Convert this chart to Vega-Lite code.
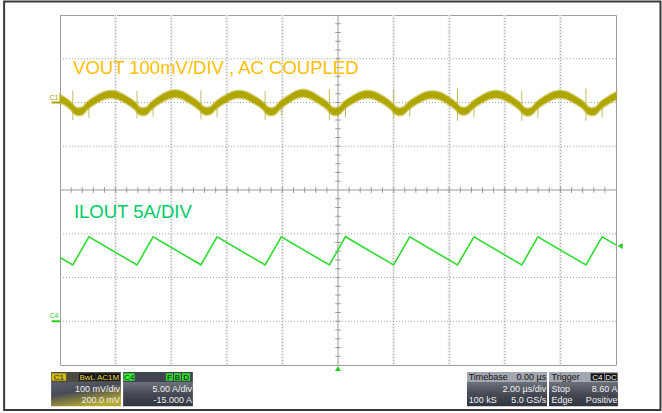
{
  "$schema": "https://vega.github.io/schema/vega-lite/v6.json",
  "width": 556,
  "height": 350,
  "autosize": {"type": "none"},
  "padding": {"left": 60, "top": 15, "right": 46, "bottom": 48},
  "background": "white",
  "config": {"view": {"stroke": "#9c9c9c", "strokeWidth": 1}, "font": "Liberation Sans"},
  "resolve": {"scale": {"y": "independent", "color": "independent", "fill": "independent"}},
  "datasets": {
    "vgrid": [{"t": -8}, {"t": -6}, {"t": -4}, {"t": -2}, {"t": 2}, {"t": 4}, {"t": 6}, {"t": 8}],
    "hgrid": [{"v": -3}, {"v": -2}, {"v": -1}, {"v": 1}, {"v": 2}, {"v": 3}],
    "xticks": [{"t": -9.6}, {"t": -9.2}, {"t": -8.8}, {"t": -8.4}, {"t": -8.0}, {"t": -7.6}, {"t": -7.2}, {"t": -6.8}, {"t": -6.4}, {"t": -6.0}, {"t": -5.6}, {"t": -5.2}, {"t": -4.8}, {"t": -4.4}, {"t": -4.0}, {"t": -3.6}, {"t": -3.2}, {"t": -2.8}, {"t": -2.4}, {"t": -2.0}, {"t": -1.6}, {"t": -1.2}, {"t": -0.8}, {"t": -0.4}, {"t": 0.4}, {"t": 0.8}, {"t": 1.2}, {"t": 1.6}, {"t": 2.0}, {"t": 2.4}, {"t": 2.8}, {"t": 3.2}, {"t": 3.6}, {"t": 4.0}, {"t": 4.4}, {"t": 4.8}, {"t": 5.2}, {"t": 5.6}, {"t": 6.0}, {"t": 6.4}, {"t": 6.8}, {"t": 7.2}, {"t": 7.6}, {"t": 8.0}, {"t": 8.4}, {"t": 8.8}, {"t": 9.2}, {"t": 9.6}],
    "yticks": [{"v": -3.8}, {"v": -3.6}, {"v": -3.4}, {"v": -3.2}, {"v": -3.0}, {"v": -2.8}, {"v": -2.6}, {"v": -2.4}, {"v": -2.2}, {"v": -2.0}, {"v": -1.8}, {"v": -1.6}, {"v": -1.4}, {"v": -1.2}, {"v": -1.0}, {"v": -0.8}, {"v": -0.6}, {"v": -0.4}, {"v": -0.2}, {"v": 0.2}, {"v": 0.4}, {"v": 0.6}, {"v": 0.8}, {"v": 1.0}, {"v": 1.2}, {"v": 1.4}, {"v": 1.6}, {"v": 1.8}, {"v": 2.0}, {"v": 2.2}, {"v": 2.4}, {"v": 2.6}, {"v": 2.8}, {"v": 3.0}, {"v": 3.2}, {"v": 3.4}, {"v": 3.6}, {"v": 3.8}],
    "vout": [
      {"t": -10.00, "lo": 1, "hi": 17}, {"t": -9.61, "lo": -16, "hi": 0}, {"t": -9.47, "lo": -26, "hi": -10}, {"t": -9.32, "lo": -29, "hi": -13},
      {"t": -9.17, "lo": -26, "hi": -10}, {"t": -9.03, "lo": -16, "hi": 0}, {"t": -8.74, "lo": -3, "hi": 13}, {"t": -8.45, "lo": 7, "hi": 23},
      {"t": -8.17, "lo": 11, "hi": 27}, {"t": -7.88, "lo": 7, "hi": 23}, {"t": -7.59, "lo": -3, "hi": 13}, {"t": -7.30, "lo": -16, "hi": 0},
      {"t": -7.16, "lo": -26, "hi": -10}, {"t": -7.01, "lo": -29, "hi": -13}, {"t": -6.86, "lo": -26, "hi": -10}, {"t": -6.72, "lo": -16, "hi": 0},
      {"t": -6.43, "lo": -2, "hi": 14}, {"t": -6.14, "lo": 8, "hi": 24}, {"t": -5.86, "lo": 12, "hi": 28}, {"t": -5.58, "lo": 8, "hi": 24},
      {"t": -5.29, "lo": -3, "hi": 13}, {"t": -5.00, "lo": -16, "hi": 0}, {"t": -4.86, "lo": -25, "hi": -9}, {"t": -4.71, "lo": -28, "hi": -12},
      {"t": -4.56, "lo": -25, "hi": -9}, {"t": -4.42, "lo": -16, "hi": 0}, {"t": -4.13, "lo": -3, "hi": 13}, {"t": -3.84, "lo": 7, "hi": 23},
      {"t": -3.56, "lo": 11, "hi": 27}, {"t": -3.27, "lo": 7, "hi": 23}, {"t": -2.98, "lo": -3, "hi": 13}, {"t": -2.69, "lo": -16, "hi": 0},
      {"t": -2.55, "lo": -26, "hi": -10}, {"t": -2.40, "lo": -29, "hi": -13}, {"t": -2.25, "lo": -26, "hi": -10}, {"t": -2.11, "lo": -16, "hi": 0},
      {"t": -1.82, "lo": -2, "hi": 14}, {"t": -1.53, "lo": 9, "hi": 25}, {"t": -1.25, "lo": 13, "hi": 29}, {"t": -0.96, "lo": 8, "hi": 24},
      {"t": -0.67, "lo": -3, "hi": 13}, {"t": -0.38, "lo": -16, "hi": 0}, {"t": -0.24, "lo": -26, "hi": -10}, {"t": -0.09, "lo": -29, "hi": -13},
      {"t": 0.06, "lo": -26, "hi": -10}, {"t": 0.20, "lo": -16, "hi": 0}, {"t": 0.49, "lo": -3, "hi": 13}, {"t": 0.78, "lo": 7, "hi": 23},
      {"t": 1.07, "lo": 11, "hi": 27}, {"t": 1.35, "lo": 7, "hi": 23}, {"t": 1.64, "lo": -3, "hi": 13}, {"t": 1.93, "lo": -17, "hi": -1},
      {"t": 2.07, "lo": -26, "hi": -10}, {"t": 2.22, "lo": -29, "hi": -13}, {"t": 2.37, "lo": -26, "hi": -10}, {"t": 2.51, "lo": -17, "hi": -1},
      {"t": 2.80, "lo": -4, "hi": 12}, {"t": 3.09, "lo": 6, "hi": 22}, {"t": 3.37, "lo": 10, "hi": 26}, {"t": 3.66, "lo": 7, "hi": 23},
      {"t": 3.95, "lo": -3, "hi": 13}, {"t": 4.23, "lo": -16, "hi": 0}, {"t": 4.37, "lo": -25, "hi": -9}, {"t": 4.52, "lo": -28, "hi": -12},
      {"t": 4.67, "lo": -25, "hi": -9}, {"t": 4.81, "lo": -16, "hi": 0}, {"t": 5.10, "lo": -3, "hi": 13}, {"t": 5.39, "lo": 7, "hi": 23},
      {"t": 5.68, "lo": 11, "hi": 27}, {"t": 5.96, "lo": 7, "hi": 23}, {"t": 6.25, "lo": -3, "hi": 13}, {"t": 6.54, "lo": -17, "hi": -1},
      {"t": 6.68, "lo": -27, "hi": -11}, {"t": 6.83, "lo": -30, "hi": -14}, {"t": 6.98, "lo": -27, "hi": -11}, {"t": 7.12, "lo": -17, "hi": -1},
      {"t": 7.41, "lo": -3, "hi": 13}, {"t": 7.70, "lo": 7, "hi": 23}, {"t": 7.98, "lo": 11, "hi": 27}, {"t": 8.27, "lo": 7, "hi": 23},
      {"t": 8.56, "lo": -3, "hi": 13}, {"t": 8.85, "lo": -16, "hi": 0}, {"t": 8.99, "lo": -26, "hi": -10}, {"t": 9.14, "lo": -29, "hi": -13},
      {"t": 9.29, "lo": -26, "hi": -10}, {"t": 9.43, "lo": -16, "hi": 0}, {"t": 9.72, "lo": -3, "hi": 13}, {"t": 10.00, "lo": 7, "hi": 23}
    ],
    "spikes": [
      {"t": -9.54, "lo": -40, "hi": 28}, {"t": -7.23, "lo": -36, "hi": 26}, {"t": -4.93, "lo": -38, "hi": 28}, {"t": -2.62, "lo": -40, "hi": 26},
      {"t": -0.31, "lo": -40, "hi": 30}, {"t": 2.00, "lo": -38, "hi": 30}, {"t": 4.30, "lo": -42, "hi": 32}, {"t": 6.61, "lo": -42, "hi": 26},
      {"t": 8.92, "lo": -42, "hi": 32},
      {"t": -8.96, "lo": -35, "hi": 0}, {"t": -6.65, "lo": -32, "hi": 2}, {"t": -4.35, "lo": -34, "hi": 4}, {"t": -2.04, "lo": -30, "hi": 6},
      {"t": 0.27, "lo": -34, "hi": 4}, {"t": 2.58, "lo": -32, "hi": 2}, {"t": 4.89, "lo": -34, "hi": 6}, {"t": 7.19, "lo": -36, "hi": 4},
      {"t": 9.50, "lo": -34, "hi": 4}
    ],
    "ilout": [
      {"t": -10.0, "amps": 7.29}, {"t": -9.54, "amps": 6.43}, {"t": -8.96, "amps": 9.65}, {"t": -7.23, "amps": 6.43}, {"t": -6.65, "amps": 9.65},
      {"t": -4.93, "amps": 6.45}, {"t": -4.35, "amps": 9.65}, {"t": -2.62, "amps": 6.43}, {"t": -2.04, "amps": 9.65}, {"t": -0.31, "amps": 6.43},
      {"t": 0.27, "amps": 9.66}, {"t": 2.00, "amps": 6.43}, {"t": 2.58, "amps": 9.64}, {"t": 4.30, "amps": 6.43}, {"t": 4.89, "amps": 9.65},
      {"t": 6.61, "amps": 6.43}, {"t": 7.19, "amps": 9.65}, {"t": 8.92, "amps": 6.43}, {"t": 9.50, "amps": 9.65}, {"t": 10.0, "amps": 8.73}
    ],
    "labels": [
      {"text": "VOUT 100mV/DIV , AC COUPLED", "t": -9.53, "v": 2.65, "trace": "VOUT"},
      {"text": "ILOUT 5A/DIV", "t": -9.50, "v": -0.64, "trace": "ILOUT"}
    ],
    "chmarks": [{"ch": "C1", "v": 2.0}, {"ch": "C4", "v": -3.0}],
    "boxes": [
      {"box": "C1", "t0": -10.32, "t1": -7.81},
      {"box": "C4", "t0": -7.73, "t1": -5.22},
      {"box": "Timebase", "t0": 4.64, "t1": 7.52},
      {"box": "Trigger", "t0": 7.59, "t1": 10.07}
    ],
    "tags": [
      {"tag": "C1", "t0": -10.30, "t1": -9.78, "tc": -10.04, "kind": "ch1"},
      {"tag": "BwL", "t0": -9.32, "t1": -8.72, "tc": -9.02, "kind": "ch1flag"},
      {"tag": "AC1M", "t0": -8.70, "t1": -7.84, "tc": -8.27, "kind": "ch1flag"},
      {"tag": "C4", "t0": -7.71, "t1": -7.32, "tc": -7.515, "kind": "ch4"},
      {"tag": "F", "t0": -6.19, "t1": -5.94, "tc": -6.065, "kind": "ch4flag"},
      {"tag": "B", "t0": -5.90, "t1": -5.65, "tc": -5.775, "kind": "ch4flag"},
      {"tag": "D", "t0": -5.61, "t1": -5.32, "tc": -5.465, "kind": "ch4flag"},
      {"tag": "C4", "t0": 9.09, "t1": 9.57, "tc": 9.33, "kind": "trigflag"},
      {"tag": "DC", "t0": 9.59, "t1": 10.05, "tc": 9.82, "kind": "trigflag"}
    ],
    "headLeft": [{"text": "Timebase", "t": 4.70, "v": -4.34}, {"text": "Trigger", "t": 7.68, "v": -4.34}],
    "headRight": [{"text": "0.00 µs", "t": 7.49, "v": -4.34}],
    "infoLeft": [{"text": "100 kS", "t": 4.70, "v": -4.865}, {"text": "Stop", "t": 7.68, "v": -4.615}, {"text": "Edge", "t": 7.68, "v": -4.865}],
    "infoRight": [
      {"text": "100 mV/div", "t": -7.84, "v": -4.615}, {"text": "200.0 mV", "t": -7.84, "v": -4.865},
      {"text": "5.00 A/div", "t": -5.25, "v": -4.615}, {"text": "-15.000 A", "t": -5.25, "v": -4.865},
      {"text": "2.00 µs/div", "t": 7.49, "v": -4.615}, {"text": "5.0 GS/s", "t": 7.49, "v": -4.865},
      {"text": "8.60 A", "t": 10.05, "v": -4.615}, {"text": "Positive", "t": 10.05, "v": -4.865}
    ]
  },
  "layer": [
    {
      "data": {"values": [{}]},
      "mark": {"type": "rect", "filled": false, "stroke": "#3a3a3a", "strokeWidth": 2},
      "encoding": {
        "x": {"datum": -12.01, "type": "quantitative", "scale": {"domain": [-10, 10], "nice": false, "zero": false}, "axis": null},
        "x2": {"datum": 11.6},
        "y": {"datum": 4.31, "type": "quantitative", "scale": {"domain": [-4, 4], "nice": false, "zero": false}, "axis": null},
        "y2": {"datum": -5.03}
      }
    },
    {
      "data": {"name": "vgrid"},
      "mark": {"type": "rule", "color": "#efefef", "strokeWidth": 3},
      "encoding": {"x": {"field": "t", "type": "quantitative", "scale": {"domain": [-10, 10], "nice": false, "zero": false}, "axis": null}}
    },
    {
      "data": {"name": "vgrid"},
      "mark": {"type": "rule", "color": "#a8a8a8", "strokeWidth": 1, "strokeDash": [1, 2]},
      "encoding": {"x": {"field": "t", "type": "quantitative", "scale": {"domain": [-10, 10], "nice": false, "zero": false}, "axis": null}}
    },
    {
      "data": {"name": "hgrid"},
      "mark": {"type": "rule", "color": "#a8a8a8", "strokeWidth": 1, "strokeDash": [1, 2]},
      "encoding": {"y": {"field": "v", "type": "quantitative", "scale": {"domain": [-4, 4], "nice": false, "zero": false}, "axis": null}}
    },
    {
      "data": {"values": [{}]},
      "mark": {"type": "rule", "color": "#9a9a9a", "strokeWidth": 1},
      "encoding": {"x": {"datum": 0, "type": "quantitative", "scale": {"domain": [-10, 10], "nice": false, "zero": false}, "axis": null}}
    },
    {
      "data": {"values": [{}]},
      "mark": {"type": "rule", "color": "#9a9a9a", "strokeWidth": 1},
      "encoding": {"y": {"datum": 0, "type": "quantitative", "scale": {"domain": [-4, 4], "nice": false, "zero": false}, "axis": null}}
    },
    {
      "data": {"name": "xticks"},
      "mark": {"type": "rule", "color": "#9a9a9a", "strokeWidth": 1},
      "encoding": {
        "x": {"field": "t", "type": "quantitative", "scale": {"domain": [-10, 10], "nice": false, "zero": false}, "axis": null},
        "y": {"datum": -0.065, "type": "quantitative", "scale": {"domain": [-4, 4], "nice": false, "zero": false}, "axis": null},
        "y2": {"datum": 0.065}
      }
    },
    {
      "data": {"name": "yticks"},
      "mark": {"type": "rule", "color": "#9a9a9a", "strokeWidth": 1},
      "encoding": {
        "y": {"field": "v", "type": "quantitative", "scale": {"domain": [-4, 4], "nice": false, "zero": false}, "axis": null},
        "x": {"datum": -0.1, "type": "quantitative", "scale": {"domain": [-10, 10], "nice": false, "zero": false}, "axis": null},
        "x2": {"datum": 0.1}
      }
    },
    {
      "data": {"name": "spikes"},
      "mark": {"type": "rule", "color": "#c4bc5c", "strokeWidth": 1},
      "encoding": {
        "x": {"field": "t", "type": "quantitative", "scale": {"domain": [-10, 10], "nice": false, "zero": false}, "axis": null},
        "y": {"field": "lo", "type": "quantitative", "scale": {"domain": [-600, 200], "nice": false, "zero": false}, "axis": null},
        "y2": {"field": "hi"}
      }
    },
    {
      "data": {"name": "vout"},
      "mark": {"type": "area", "color": "#b0a600", "interpolate": "monotone", "stroke": "#b3a90a", "strokeWidth": 2.5, "strokeOpacity": 0.5},
      "encoding": {
        "x": {"field": "t", "type": "quantitative", "scale": {"domain": [-10, 10], "nice": false, "zero": false}, "axis": null},
        "y": {"field": "lo", "type": "quantitative", "scale": {"domain": [-600, 200], "nice": false, "zero": false}, "axis": null},
        "y2": {"field": "hi"}
      }
    },
    {
      "data": {"name": "ilout"},
      "mark": {"type": "line", "color": "#2fdc2f", "strokeWidth": 1.6},
      "encoding": {
        "x": {"field": "t", "type": "quantitative", "scale": {"domain": [-10, 10], "nice": false, "zero": false}, "axis": null},
        "y": {"field": "amps", "type": "quantitative", "scale": {"domain": [-5, 35], "nice": false, "zero": false}, "axis": null}
      }
    },
    {
      "data": {"name": "labels"},
      "mark": {"type": "text", "align": "left", "baseline": "alphabetic", "fontSize": 18.5, "font": "Liberation Sans"},
      "encoding": {
        "x": {"field": "t", "type": "quantitative", "scale": {"domain": [-10, 10], "nice": false, "zero": false}, "axis": null},
        "y": {"field": "v", "type": "quantitative", "scale": {"domain": [-4, 4], "nice": false, "zero": false}, "axis": null},
        "text": {"field": "text"},
        "color": {"field": "trace", "type": "nominal", "scale": {"domain": ["VOUT", "ILOUT"], "range": ["#ffc000", "#00cc66"]}, "legend": null}
      }
    },
    {
      "data": {"name": "chmarks"},
      "mark": {"type": "rule", "strokeWidth": 2},
      "encoding": {
        "x": {"datum": -10.3, "type": "quantitative", "scale": {"domain": [-10, 10], "nice": false, "zero": false}, "axis": null},
        "x2": {"datum": -10.0},
        "y": {"field": "v", "type": "quantitative", "scale": {"domain": [-4, 4], "nice": false, "zero": false}, "axis": null},
        "color": {"field": "ch", "type": "nominal", "scale": {"domain": ["C1", "C4"], "range": ["#aea400", "#22d422"]}, "legend": null}
      }
    },
    {
      "data": {"name": "chmarks"},
      "mark": {"type": "text", "align": "center", "baseline": "alphabetic", "fontSize": 7, "dy": -3},
      "encoding": {
        "x": {"datum": -10.22, "type": "quantitative", "scale": {"domain": [-10, 10], "nice": false, "zero": false}, "axis": null},
        "y": {"field": "v", "type": "quantitative", "scale": {"domain": [-4, 4], "nice": false, "zero": false}, "axis": null},
        "text": {"field": "ch"},
        "color": {"field": "ch", "type": "nominal", "scale": {"domain": ["C1", "C4"], "range": ["#aea400", "#22d422"]}, "legend": null}
      }
    },
    {
      "data": {"values": [{}]},
      "mark": {"type": "point", "shape": "triangle-up", "filled": true, "color": "#22cc22", "size": 35, "opacity": 1},
      "encoding": {
        "x": {"datum": 0, "type": "quantitative", "scale": {"domain": [-10, 10], "nice": false, "zero": false}, "axis": null},
        "y": {"datum": -4.08, "type": "quantitative", "scale": {"domain": [-4, 4], "nice": false, "zero": false}, "axis": null}
      }
    },
    {
      "data": {"values": [{}]},
      "mark": {"type": "point", "shape": "triangle-left", "filled": true, "color": "#22cc22", "size": 35, "opacity": 1},
      "encoding": {
        "x": {"datum": 10.15, "type": "quantitative", "scale": {"domain": [-10, 10], "nice": false, "zero": false}, "axis": null},
        "y": {"datum": 8.6, "type": "quantitative", "scale": {"domain": [-5, 35], "nice": false, "zero": false}, "axis": null}
      }
    },
    {
      "data": {"name": "boxes"},
      "transform": [{"filter": "datum.box === 'C1'"}],
      "mark": {"type": "rect", "fill": {"gradient": "linear", "x1": 0, "y1": 0, "x2": 0.5, "y2": 1, "stops": [{"offset": 0, "color": "#5c606a"}, {"offset": 0.45, "color": "#484c56"}, {"offset": 1, "color": "#b3a830"}]}},
      "encoding": {
        "x": {"field": "t0", "type": "quantitative", "scale": {"domain": [-10, 10], "nice": false, "zero": false}, "axis": null},
        "x2": {"field": "t1"},
        "y": {"datum": -4.39, "type": "quantitative", "scale": {"domain": [-4, 4], "nice": false, "zero": false}, "axis": null},
        "y2": {"datum": -4.94}
      }
    },
    {
      "data": {"name": "boxes"},
      "transform": [{"filter": "datum.box !== 'C1'"}],
      "mark": {"type": "rect", "fill": {"gradient": "linear", "x1": 0, "y1": 0, "x2": 0, "y2": 1, "stops": [{"offset": 0, "color": "#6c717b"}, {"offset": 0.5, "color": "#454a55"}, {"offset": 1, "color": "#30343e"}]}},
      "encoding": {
        "x": {"field": "t0", "type": "quantitative", "scale": {"domain": [-10, 10], "nice": false, "zero": false}, "axis": null},
        "x2": {"field": "t1"},
        "y": {"datum": -4.39, "type": "quantitative", "scale": {"domain": [-4, 4], "nice": false, "zero": false}, "axis": null},
        "y2": {"datum": -4.94}
      }
    },
    {
      "data": {"name": "boxes"},
      "mark": {"type": "rect"},
      "encoding": {
        "x": {"field": "t0", "type": "quantitative", "scale": {"domain": [-10, 10], "nice": false, "zero": false}, "axis": null},
        "x2": {"field": "t1"},
        "y": {"datum": -4.16, "type": "quantitative", "scale": {"domain": [-4, 4], "nice": false, "zero": false}, "axis": null},
        "y2": {"datum": -4.39},
        "fill": {"field": "box", "type": "nominal", "scale": {"domain": ["C1", "C4", "Timebase", "Trigger"], "range": ["#4c4b40", "#40454f", "#a3a7af", "#a3a7af"]}, "legend": null}
      }
    },
    {
      "data": {"name": "tags"},
      "mark": {"type": "rect"},
      "encoding": {
        "x": {"field": "t0", "type": "quantitative", "scale": {"domain": [-10, 10], "nice": false, "zero": false}, "axis": null},
        "x2": {"field": "t1"},
        "y": {"datum": -4.19, "type": "quantitative", "scale": {"domain": [-4, 4], "nice": false, "zero": false}, "axis": null},
        "y2": {"datum": -4.36},
        "fill": {"field": "kind", "type": "nominal", "scale": {"domain": ["ch1", "ch1flag", "ch4", "ch4flag", "trigflag"], "range": ["#cdbb10", "#151515", "#35ee35", "#30d830", "#151515"]}, "legend": null}
      }
    },
    {
      "data": {"name": "tags"},
      "mark": {"type": "text", "align": "center", "baseline": "alphabetic", "fontSize": 8},
      "encoding": {
        "x": {"field": "tc", "type": "quantitative", "scale": {"domain": [-10, 10], "nice": false, "zero": false}, "axis": null},
        "y": {"datum": -4.335, "type": "quantitative", "scale": {"domain": [-4, 4], "nice": false, "zero": false}, "axis": null},
        "text": {"field": "tag"},
        "fill": {"field": "kind", "type": "nominal", "scale": {"domain": ["ch1", "ch1flag", "ch4", "ch4flag", "trigflag"], "range": ["#2a2a10", "#e6d040", "#0c300c", "#0a0a0a", "#f0f0f0"]}, "legend": null}
      }
    },
    {
      "data": {"name": "headLeft"},
      "mark": {"type": "text", "align": "left", "baseline": "alphabetic", "fontSize": 9, "color": "#141414"},
      "encoding": {
        "x": {"field": "t", "type": "quantitative", "scale": {"domain": [-10, 10], "nice": false, "zero": false}, "axis": null},
        "y": {"field": "v", "type": "quantitative", "scale": {"domain": [-4, 4], "nice": false, "zero": false}, "axis": null},
        "text": {"field": "text"}
      }
    },
    {
      "data": {"name": "headRight"},
      "mark": {"type": "text", "align": "right", "baseline": "alphabetic", "fontSize": 9, "color": "#141414"},
      "encoding": {
        "x": {"field": "t", "type": "quantitative", "scale": {"domain": [-10, 10], "nice": false, "zero": false}, "axis": null},
        "y": {"field": "v", "type": "quantitative", "scale": {"domain": [-4, 4], "nice": false, "zero": false}, "axis": null},
        "text": {"field": "text"}
      }
    },
    {
      "data": {"name": "infoLeft"},
      "mark": {"type": "text", "align": "left", "baseline": "alphabetic", "fontSize": 9, "color": "#f0f0f0"},
      "encoding": {
        "x": {"field": "t", "type": "quantitative", "scale": {"domain": [-10, 10], "nice": false, "zero": false}, "axis": null},
        "y": {"field": "v", "type": "quantitative", "scale": {"domain": [-4, 4], "nice": false, "zero": false}, "axis": null},
        "text": {"field": "text"}
      }
    },
    {
      "data": {"name": "infoRight"},
      "mark": {"type": "text", "align": "right", "baseline": "alphabetic", "fontSize": 9, "color": "#f0f0f0"},
      "encoding": {
        "x": {"field": "t", "type": "quantitative", "scale": {"domain": [-10, 10], "nice": false, "zero": false}, "axis": null},
        "y": {"field": "v", "type": "quantitative", "scale": {"domain": [-4, 4], "nice": false, "zero": false}, "axis": null},
        "text": {"field": "text"}
      }
    }
  ]
}
